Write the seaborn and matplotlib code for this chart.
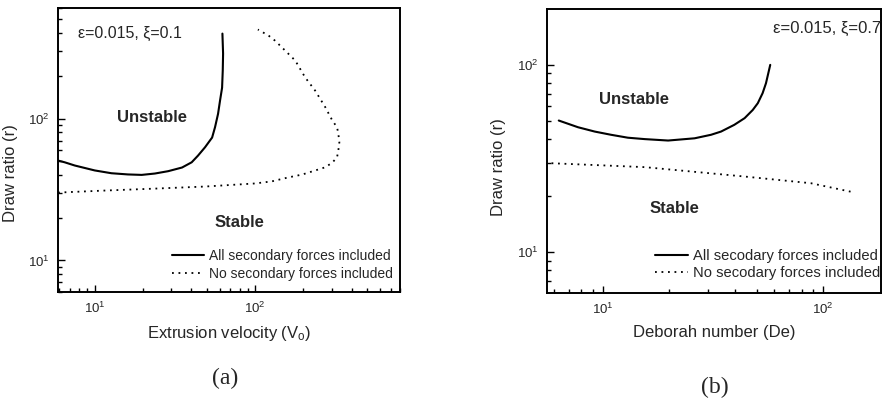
import numpy as np
import pandas as pd
import matplotlib
matplotlib.use("Agg")
import matplotlib.pyplot as plt
import seaborn as sns
from matplotlib.ticker import LogLocator, NullFormatter

# data

# (a) draw ratio vs extrusion velocity
va_all = [5.9, 6.49, 7.5, 10, 12.7, 16.1, 19.6, 23.7, 28.7, 35, 40.2, 44,
          48.7, 53.9, 56.2, 58.7, 60.4, 62.2, 62.8, 63.1, 62.5]
ra_all = [50.6, 49.2, 46.7, 43.1, 41.2, 40.4, 40.1, 41.0, 42.6, 45.2, 49.2,
          54.8, 62.8, 73.5, 86.9, 108, 134, 165, 218, 287, 397]

va_none = [5.9, 11.5, 23.7, 48.7, 100, 127, 161, 196, 237, 274, 303, 324,
           330, 335, 330, 324, 303, 274, 237, 205, 178, 154, 133, 121, 104]
ra_none = [30.1, 31.1, 32.1, 33.2, 34.9, 36.1, 38.5, 40.3, 43.1, 45.4, 49,
           53.3, 59.5, 68.1, 78.4, 86.9, 96.8, 120, 157, 195, 256, 301, 354,
           385, 424]

# (b) draw ratio vs Deborah number
de_all = [6.32, 7.73, 9.2, 10.9, 13, 15.5, 19.8, 26.1, 31, 34.4, 39.5, 44,
          47.9, 50.5, 53.1, 55, 57.5]
rb_all = [50.4, 46.4, 44, 42.3, 40.8, 40.1, 39.4, 40.5, 42.3, 44, 47.8, 51.9,
          57.4, 62.4, 70.6, 79.8, 100]

de_none = [5.86, 15.5, 44, 87.9, 133]
rb_none = [29.8, 28.4, 25.3, 23.3, 21]

sns.set_style("ticks")
plt.rcParams['font.family'] = ['Liberation Sans', 'DejaVu Sans']
plt.rcParams['mathtext.fontset'] = 'custom'
plt.rcParams['mathtext.rm'] = 'Liberation Sans'
plt.rcParams['mathtext.it'] = 'Liberation Sans'

fig = plt.figure(figsize=(8.82, 4.07), dpi=100)
ax_a = fig.add_axes([0.0658, 0.2826, 0.3877, 0.6974])
ax_b = fig.add_axes([0.620, 0.280, 0.379, 0.698])

dots = (0, (1, 2.6))


def style_axes(ax, xlim, ylim):
    ax.set_xscale("log")
    ax.set_yscale("log")
    ax.set_xlim(*xlim)
    ax.set_ylim(*ylim)
    for s in ax.spines.values():
        s.set_linewidth(1.4)
        s.set_color("black")
    ax.xaxis.set_major_locator(LogLocator(base=10))
    ax.yaxis.set_major_locator(LogLocator(base=10))
    ax.xaxis.set_minor_locator(LogLocator(base=10, subs=np.arange(2, 10)))
    ax.yaxis.set_minor_locator(LogLocator(base=10, subs=np.arange(2, 10)))
    ax.xaxis.set_minor_formatter(NullFormatter())
    ax.yaxis.set_minor_formatter(NullFormatter())
    ax.tick_params(which="both", direction="in", top=False, right=False,
                   color="black", width=1.0, labelsize=9.5, pad=6)
    ax.tick_params(which="major", length=5)
    ax.tick_params(which="minor", length=3)


# panel (a)
sns.lineplot(x=va_all, y=ra_all, ax=ax_a, sort=False, estimator=None,
             color="black", lw=1.5, label="All secondary forces included")
sns.lineplot(x=va_none, y=ra_none, ax=ax_a, sort=False, estimator=None,
             color="black", lw=1.3, linestyle=dots,
             label="No secondary forces included")
style_axes(ax_a, (5.9, 800), (6.0, 600))
ax_a.set_xlabel("Extrusion velocity (V$_\\mathregular{o}$)", fontsize=12, labelpad=6)
ax_a.set_ylabel("Draw ratio (r)", fontsize=12)
ax_a.yaxis.set_label_coords(-0.117, 0.42)
ax_a.text(0.058, 0.912, "ε=0.015, ξ=0.1", transform=ax_a.transAxes,
          fontsize=11.5, ha="left", va="center")
ax_a.text(0.275, 0.613, "Unstable", transform=ax_a.transAxes,
          fontsize=12, fontweight="bold", ha="center", va="center")
ax_a.text(0.532, 0.246, "Stable", transform=ax_a.transAxes,
          fontsize=12, fontweight="bold", ha="center", va="center")
ax_a.legend(loc="lower left", bbox_to_anchor=(0.333, 0.04), frameon=False,
            fontsize=10, handlelength=2.3, handletextpad=0.35,
            labelspacing=0.25, borderpad=0, borderaxespad=0)

# panel (b)
sns.lineplot(x=de_all, y=rb_all, ax=ax_b, sort=False, estimator=None,
             color="black", lw=1.5, label="All secodary forces included")
sns.lineplot(x=de_none, y=rb_none, ax=ax_b, sort=False, estimator=None,
             color="black", lw=1.3, linestyle=dots,
             label="No secodary forces included")
style_axes(ax_b, (5.58, 183), (6.03, 199))
ax_b.set_xlabel("Deborah number (De)", fontsize=12, labelpad=6)
ax_b.set_ylabel("Draw ratio (r)", fontsize=12)
ax_b.yaxis.set_label_coords(-0.122, 0.444)
ax_b.text(0.678, 0.933, "ε=0.015, ξ=0.7", transform=ax_b.transAxes,
          fontsize=12, ha="left", va="center")
ax_b.text(0.26, 0.683, "Unstable", transform=ax_b.transAxes,
          fontsize=12, fontweight="bold", ha="center", va="center")
ax_b.text(0.382, 0.296, "Stable", transform=ax_b.transAxes,
          fontsize=12, fontweight="bold", ha="center", va="center")
ax_b.legend(loc="lower left", bbox_to_anchor=(0.325, 0.045), frameon=False,
            fontsize=10.6, handlelength=2.2, handletextpad=0.35,
            labelspacing=0.2, borderpad=0, borderaxespad=0)

fig.text(0.255, 0.071, "(a)", fontsize=17, ha="center", va="center",
         family=["Liberation Serif", "DejaVu Serif"])
fig.text(0.81, 0.047, "(b)", fontsize=17, ha="center", va="center",
         family=["Liberation Serif", "DejaVu Serif"])

fig.savefig("out.png", dpi=100)
